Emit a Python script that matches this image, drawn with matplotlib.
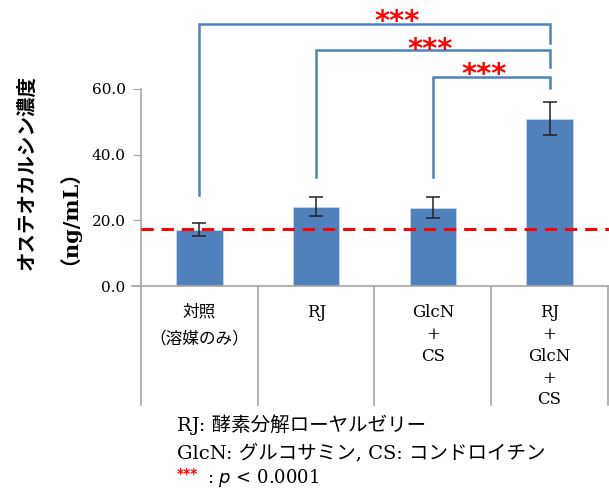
import numpy as np
import matplotlib
matplotlib.use("Agg")
import matplotlib.pyplot as plt

# data
groups = ["対照\n（溶媒のみ）", "RJ", "GlcN\n+\nCS", "RJ\n+\nGlcN\n+\nCS"]
means = [17.1, 24.2, 23.9, 51.0]
errs = [2.0, 2.9, 3.3, 4.9]
ref_level = 17.3
yticks = [0, 20, 40, 60]

# significance brackets: (left group, right group, bar height, left leg end, right leg end)
brackets = [(0, 3, 79.8, 27.7, 74.0),
            (1, 3, 71.9, 33.3, 66.7),
            (2, 3, 63.7, 33.3, 60.3)]
# where the "***" sit (centre x in group units, centre y in data units)
star_x = [1.69, 1.98, 2.44]
star_y = [82.5, 74.0, 66.4]

serif = ["DejaVu Serif", "Noto Sans CJK JP"]
blue = "#4f81bd"
grid_gray = "#a6a6a6"

fig = plt.figure(figsize=(6.09, 4.93), dpi=100)
ax = fig.add_axes([141/609, 1 - 286/493, 467/609, 197/493])

x = np.arange(len(groups))
ax.bar(x, means, width=0.4, color=blue, edgecolor="#c6d5ea", linewidth=0.6, zorder=2)
ax.errorbar(x, means, yerr=errs, fmt="none", ecolor="#222222", elinewidth=1.1,
            capsize=5, capthick=1.1, zorder=3)

ax.set_xlim(-0.5, len(groups) - 0.5)
ax.set_ylim(0, 60)
ax.set_yticks(yticks)
ax.set_yticklabels([f"{v:.1f}" for v in yticks], family="DejaVu Serif", fontsize=11)
ax.tick_params(axis="y", length=6, color=grid_gray, pad=5)
ax.set_xticks([])

for s in ["top", "right"]:
    ax.spines[s].set_visible(False)
ax.spines["left"].set_color(grid_gray)
ax.spines["bottom"].set_color(grid_gray)
ax.spines["left"].set_linewidth(1.2)
ax.spines["bottom"].set_linewidth(1.2)

# category boxes below axis
trans = ax.get_xaxis_transform()
for b in np.arange(-0.5, len(groups), 1.0):
    ax.plot([b, b], [0, -0.605], transform=trans, color=grid_gray, lw=1.2,
            clip_on=False)
ax.plot([-0.58, -0.5], [0, 0], transform=trans, color=grid_gray, lw=1.2, clip_on=False)

for i, g in enumerate(groups):
    if i == 0:
        ax.text(i, -0.09, g, transform=trans, ha="center", va="top", fontsize=12,
                family=["Noto Sans CJK JP"], linespacing=1.75)
    else:
        ax.text(i, -0.09, g, transform=trans, ha="center", va="top", fontsize=12,
                family=serif, linespacing=1.38)

# red dashed reference line
ax.plot([-0.5, 3.55], [ref_level, ref_level], color="red", lw=2.2,
        dashes=(4, 2.6), clip_on=False, zorder=4)

# brackets + stars
for (l, r, h, lend, rend), sx, sy in zip(brackets, star_x, star_y):
    ax.plot([l, l, r, r], [lend, h, h, rend], color=blue, lw=1.8,
            clip_on=False, zorder=1, solid_joinstyle="miter")
    ax.text(sx, sy - 6.4, "***", color="red", fontsize=21, fontweight="bold",
            ha="center", va="bottom", clip_on=False)

# y labels
fig.text(27/609, 1 - 173/493, "オステオカルシン濃度", rotation=90, ha="center",
         va="center", fontsize=14, fontweight="bold", family=["Noto Sans CJK JP"])
fig.text(58/609, 1 - 207/493, "（ng/mL）", rotation=90, ha="center", va="center",
         fontsize=15, fontweight="bold", family=serif)

# footnotes
fig.text(177/609, 1 - 425/493, "RJ: 酵素分解ローヤルゼリー", fontsize=14,
         family=serif, va="center")
fig.text(177/609, 1 - 453/493, "GlcN: グルコサミン, CS: コンドロイチン", fontsize=14,
         family=serif, va="center")
fig.text(177/609, 1 - 474/493, "***", fontsize=10, color="red", fontweight="bold",
         family="DejaVu Sans", va="center")
fig.text(207/609, 1 - 478/493, ": $p$ < 0.0001", fontsize=13, family=serif, va="center")

fig.savefig("out.png", dpi=100)
